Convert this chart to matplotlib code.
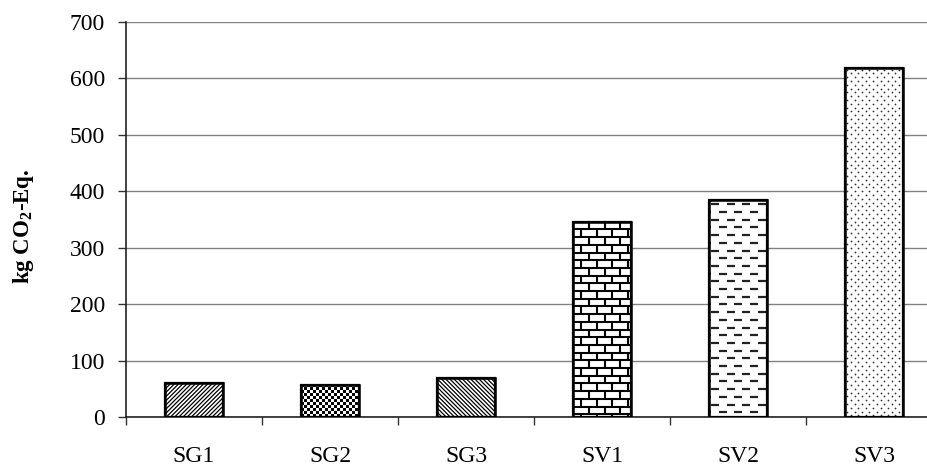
import numpy as np
import matplotlib
matplotlib.use("Agg")
import matplotlib.pyplot as plt
from matplotlib.collections import LineCollection, PatchCollection
from matplotlib.patches import Rectangle

# Emissions per scenario (kg CO2-eq)
categories = ["SG1", "SG2", "SG3", "SV1", "SV2", "SV3"]
emissions = [60, 56, 70, 346, 385, 619]
y_ticks = [0, 100, 200, 300, 400, 500, 600, 700]

plt.rcParams['font.family'] = ['Liberation Serif', 'DejaVu Serif']
plt.rcParams['mathtext.fontset'] = 'custom'
plt.rcParams['mathtext.rm'] = 'Liberation Serif:bold'
plt.rcParams['hatch.linewidth'] = 0.9

fig = plt.figure(figsize=(9.28, 4.68), dpi=100)
ax = fig.add_axes([126 / 928, 51 / 468, 816 / 928, 395 / 468])

x = np.arange(len(categories))
bars = ax.bar(x, emissions, width=0.42, color='white', edgecolor='black',
              linewidth=1.6, zorder=3)
ax.set_xlim(-0.5, len(categories) - 0.5)
ax.set_ylim(y_ticks[0], y_ticks[-1])

# pixel size of one data unit, used to build fill textures
t = ax.transData
ppx = t.transform((1, 0))[0] - t.transform((0, 0))[0]
ppy = t.transform((0, 1))[1] - t.transform((0, 0))[1]


def bar_box(bar):
    return bar.get_x(), bar.get_y(), bar.get_width(), bar.get_height()


def brick_fill(bar, row_px=7.7, brick_px=15.6, lw=1.5):
    x0, y0, w, h = bar_box(bar)
    dy, dx = row_px / ppy, brick_px / ppx
    segs = []
    n_rows = int(np.ceil(h / dy)) + 1
    for k in range(n_rows):
        ytop = y0 + h - k * dy
        ybot = ytop - dy
        segs.append([(x0, ytop), (x0 + w, ytop)])
        off = 0.0 if k % 2 == 0 else dx / 2
        xs = np.arange(x0 - dx + off, x0 + w + dx, dx)
        for xv in xs:
            segs.append([(xv, ybot), (xv, ytop)])
    lc = LineCollection(segs, colors='black', linewidths=lw, zorder=4)
    ax.add_collection(lc)
    lc.set_clip_path(bar)


def dash_fill(bar, row_px=7.7, pitch_px=15.6, dash_px=8.0, lw=1.6):
    x0, y0, w, h = bar_box(bar)
    dy, dx, dl = row_px / ppy, pitch_px / ppx, dash_px / ppx
    segs = []
    n_rows = int(np.ceil(h / dy)) + 1
    for k in range(n_rows):
        yv = y0 + h - (k + 0.6) * dy
        off = 0.1 * dx if k % 2 == 0 else 0.6 * dx
        xs = np.arange(x0 - dx + off, x0 + w + dx, dx)
        for xv in xs:
            segs.append([(xv, yv), (xv + dl, yv)])
    lc = LineCollection(segs, colors='#222222', linewidths=lw, zorder=4)
    ax.add_collection(lc)
    lc.set_clip_path(bar)


def checker_fill(bar, cell_px=3.0):
    x0, y0, w, h = bar_box(bar)
    cx, cy = cell_px / ppx, cell_px / ppy
    cells = []
    for i in range(int(np.ceil(w / cx)) + 1):
        for j in range(int(np.ceil(h / cy)) + 1):
            if (i + j) % 2 == 0:
                cells.append(Rectangle((x0 + i * cx, y0 + j * cy), cx, cy))
    pc = PatchCollection(cells, facecolor='black', edgecolor='none', zorder=4)
    ax.add_collection(pc)
    pc.set_clip_path(bar)


def dot_fill(bar, row_px=3.8, pitch_px=7.4, size=1.6):
    x0, y0, w, h = bar_box(bar)
    dy, dx = row_px / ppy, pitch_px / ppx
    px, py = [], []
    n_rows = int(np.ceil(h / dy)) + 1
    for k in range(n_rows):
        yv = y0 + h - (k + 0.5) * dy
        off = 0.25 * dx if k % 2 == 0 else 0.75 * dx
        for xv in np.arange(x0 + off, x0 + w, dx):
            px.append(xv)
            py.append(yv)
    sc = ax.scatter(px, py, s=size, color='#303030', linewidths=0, zorder=4)
    sc.set_clip_path(bar)


bars[0].set_hatch('////////')
checker_fill(bars[1])
bars[2].set_hatch('\\' * 8)
brick_fill(bars[3])
dash_fill(bars[4])
dot_fill(bars[5])

# redraw outlines on top of textures
for b in bars:
    xb, yb, wb, hb = bar_box(b)
    ax.add_patch(Rectangle((xb, yb), wb, hb, fill=False, edgecolor='black',
                           linewidth=1.8, zorder=5))

ax.set_yticks(y_ticks)
ax.yaxis.grid(True, color='#808080', linewidth=1.0)
ax.set_axisbelow(True)

ax.set_xticks(np.arange(-0.5, len(categories), 1.0))
ax.set_xticklabels([])
ax.set_xticks(x, minor=True)
ax.set_xticklabels(categories, minor=True)
ax.tick_params(axis='x', which='major', direction='out', length=6, width=1.0,
               color='#333333')
ax.tick_params(axis='x', which='minor', length=0, pad=21, labelsize=17)
ax.tick_params(axis='y', direction='out', length=6, width=1.0,
               color='#333333', pad=9, labelsize=17)

for side in ('top', 'right'):
    ax.spines[side].set_visible(False)
for side in ('left', 'bottom'):
    ax.spines[side].set_color('#222222')
    ax.spines[side].set_linewidth(1.2)

fig.text(24 / 928, 1 - 226 / 468, r'kg CO$_{\mathrm{2}}$-Eq.', rotation=90,
         ha='center', va='center', fontsize=16.5, fontweight='bold')

fig.savefig('out.png', dpi=100)
